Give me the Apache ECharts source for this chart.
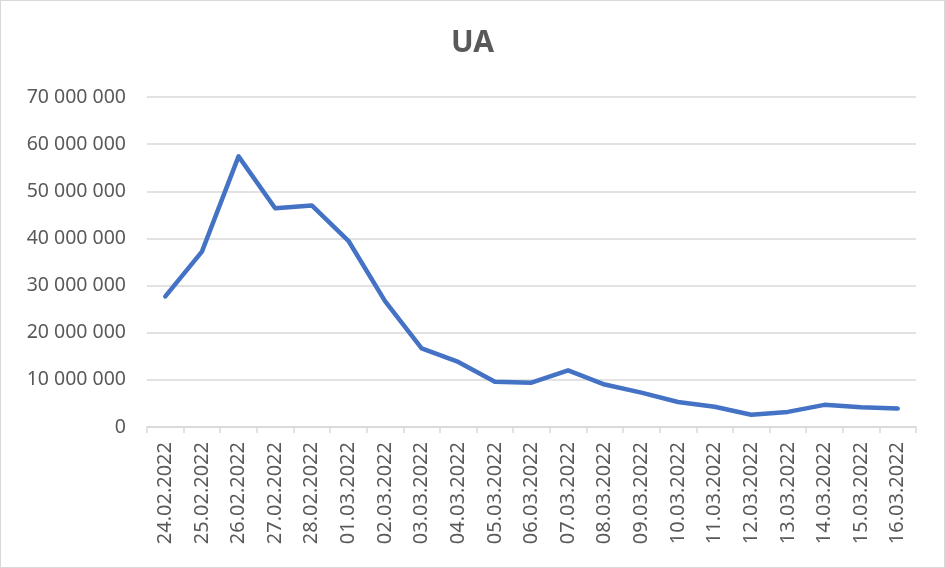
<!DOCTYPE html>
<html>
<head>
<meta charset="utf-8">
<script src="https://cdn.jsdelivr.net/npm/echarts@6/dist/echarts.min.js"></script>
<style>
  html, body { margin: 0; padding: 0; background: #fff; }
  #chart { width: 943px; height: 566px; border: 1px solid #d9d9d9; }
</style>
</head>
<body>
<div id="chart"></div>
<script>
// Dữ liệu
var dates = ['24.02.2022', '25.02.2022', '26.02.2022', '27.02.2022', '28.02.2022', '01.03.2022',
    '02.03.2022', '03.03.2022', '04.03.2022', '05.03.2022', '06.03.2022', '07.03.2022',
    '08.03.2022', '09.03.2022', '10.03.2022', '11.03.2022', '12.03.2022', '13.03.2022',
    '14.03.2022', '15.03.2022', '16.03.2022'];
var values = [27700000, 37200000, 57400000, 46400000, 47000000, 39500000,
    26700000, 16700000, 13800000, 9600000, 9400000, 12000000,
    9000000, 7300000, 5300000, 4300000, 2600000, 3200000,
    4700000, 4200000, 3900000];
var yTicks = { min: 0, max: 70000000, interval: 10000000 };

function formatNumber(value) {
    return String(value).replace(/\B(?=(\d{3})+(?!\d))/g, ' ');
}

var myChart = echarts.init(document.getElementById('chart'));
var font = 'Noto Sans';

var option = {
    animation: false,
    title: {
        text: 'UA',
        left: 'center',
        top: 22,
        textStyle: { fontFamily: font, fontSize: 30, fontWeight: 'bold', color: '#595959' }
    },
    grid: { left: 146, right: 28, top: 96, bottom: 140, containLabel: false },
    xAxis: {
        type: 'category',
        data: dates,
        boundaryGap: true,
        axisLine: { lineStyle: { color: '#d9d9d9', width: 1.5 } },
        axisTick: { show: true, length: 6, lineStyle: { color: '#d9d9d9', width: 1.5 } },
        axisLabel: { rotate: 90, interval: 0, margin: 15, fontFamily: font, fontSize: 20, color: '#595959' }
    },
    yAxis: {
        type: 'value',
        min: yTicks.min,
        max: yTicks.max,
        interval: yTicks.interval,
        axisLine: { show: false },
        axisTick: { show: false },
        splitLine: { lineStyle: { color: '#d9d9d9', width: 1.5 } },
        axisLabel: {
            margin: 21, fontFamily: font, fontSize: 19.5, color: '#595959',
            formatter: function (value) { return formatNumber(value); }
        }
    },
    series: [{
        type: 'line',
        data: values,
        showSymbol: false,
        smooth: false,
        lineStyle: { color: '#4472c4', width: 4.5, cap: 'round', join: 'round' }
    }]
};

myChart.setOption(option);
</script>
</body>
</html>
